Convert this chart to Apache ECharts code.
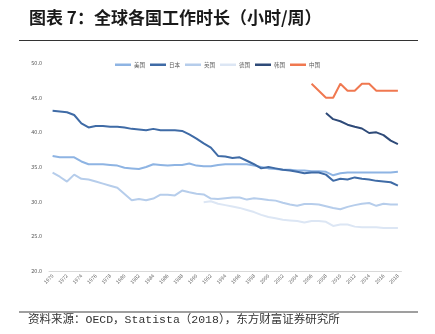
<!DOCTYPE html>
<html>
<head>
<meta charset="utf-8">
<script src="https://cdn.jsdelivr.net/npm/echarts@6/dist/echarts.min.js"></script>
<style>
html,body{margin:0;padding:0;background:#fff;}
#chart{width:435px;height:334px;}
</style>
</head>
<body>
<div id="chart"></div>
<script>
var years = [];
for (var y = 1970; y <= 2018; y++) years.push(String(y));

var usa = [36.6,36.4,36.4,36.4,35.8,35.4,35.4,35.4,35.3,35.2,34.9,34.8,34.7,35.0,35.4,35.3,35.2,35.3,35.3,35.5,35.2,35.1,35.1,35.3,35.4,35.4,35.4,35.4,35.2,35.0,34.8,34.7,34.6,34.6,34.5,34.5,34.4,34.4,34.3,33.8,34.1,34.2,34.2,34.2,34.2,34.2,34.2,34.2,34.3];
var japan = [43.1,43.0,42.9,42.5,41.3,40.7,40.9,40.9,40.8,40.8,40.7,40.5,40.4,40.3,40.5,40.3,40.3,40.3,40.2,39.7,39.1,38.4,37.8,36.6,36.5,36.3,36.4,35.9,35.4,34.8,35.0,34.8,34.6,34.5,34.3,34.1,34.2,34.2,33.9,33.0,33.3,33.2,33.5,33.3,33.2,33.0,32.9,32.8,32.3];
var uk = [34.2,33.6,32.9,33.9,33.3,33.2,32.9,32.6,32.3,32.0,31.1,30.2,30.4,30.2,30.45,31.0,31.0,30.9,31.6,31.35,31.15,31.05,30.45,30.4,30.5,30.6,30.6,30.3,30.5,30.4,30.25,30.15,29.85,29.6,29.4,29.65,29.65,29.6,29.35,29.1,28.9,29.25,29.5,29.7,29.8,29.4,29.7,29.6,29.6];
var germany = [null,null,null,null,null,null,null,null,null,null,null,null,null,null,null,null,null,null,null,null,null,29.9,30.05,29.7,29.5,29.3,29.1,28.8,28.5,28.1,27.8,27.6,27.4,27.3,27.2,27.0,27.2,27.2,27.1,26.5,26.7,26.7,26.4,26.3,26.3,26.3,26.2,26.2,26.2];
var korea = [null,null,null,null,null,null,null,null,null,null,null,null,null,null,null,null,null,null,null,null,null,null,null,null,null,null,null,null,null,null,null,null,null,null,null,null,null,null,42.8,41.9,41.6,41.1,40.8,40.55,39.9,40.0,39.6,38.8,38.3];
var china = [null,null,null,null,null,null,null,null,null,null,null,null,null,null,null,null,null,null,null,null,null,null,null,null,null,null,null,null,null,null,null,null,null,null,null,null,47,46,45,45,47,46,46,47,47,46,46,46,46];

var names = ['美国','日本','英国','德国','韩国','中国'];
var colors = ['#8EB4E3','#3F6BA6','#B6CDEB','#DCE6F4','#2E4A78','#F07850'];
var dataSets = [usa, japan, uk, germany, korea, china];
var yTicks = {min: 20, max: 50, interval: 5};

var chart = echarts.init(document.getElementById('chart'), null, {renderer: 'canvas'});
var series = names.map(function (n, i) {
  return {
    name: n, type: 'line', data: dataSets[i], symbol: 'none', smooth: false,
    connectNulls: false,
    lineStyle: {color: colors[i], width: 2},
    itemStyle: {color: colors[i]},
    z: (i === 1 || i === 4) ? 3 : 2
  };
});

chart.setOption({
  animation: false,
  backgroundColor: '#fff',
  textStyle: {fontFamily: '"Noto Sans CJK SC", sans-serif'},
  grid: {left: 49, right: 33.5, top: 63, bottom: 63, containLabel: false},
  legend: {
    data: names, top: 57, left: 'center',
    icon: 'rect', itemWidth: 16, itemHeight: 2.5, itemGap: 5,
    textStyle: {fontSize: 5.5, color: '#595959', padding: [0, 0, 0, -2]}
  },
  xAxis: {
    type: 'category', data: years, boundaryGap: true,
    axisLine: {lineStyle: {color: '#D9D9D9', width: 1}},
    axisTick: {show: false},
    axisLabel: {interval: 1, rotate: 45, fontSize: 5, color: '#595959', margin: 4}
  },
  yAxis: {
    type: 'value', min: yTicks.min, max: yTicks.max, interval: yTicks.interval,
    axisLine: {show: false}, axisTick: {show: false}, splitLine: {show: false},
    axisLabel: {fontSize: 5.5, color: '#595959', margin: 7, formatter: function (v) { return v.toFixed(1); }}
  },
  graphic: [
    {type: 'text', left: 29, top: 9, style: {text: '图表 7：全球各国工作时长（小时/周）', font: 'bold 17px "Noto Sans CJK SC"', fill: '#1a1a1a'}},
    {type: 'line', shape: {x1: 19, y1: 40.5, x2: 418, y2: 40.5}, style: {stroke: '#333', lineWidth: 1}},
    {type: 'line', shape: {x1: 19, y1: 312, x2: 418, y2: 312}, style: {stroke: '#7F7F7F', lineWidth: 1.5}},
    {type: 'text', left: 28, top: 314, style: {text: '资料来源：OECD，Statista（2018），东方财富证券研究所', font: '11.5px "Liberation Mono","Noto Sans CJK SC"', fill: '#333'}}
  ],
  series: series
});
</script>
</body>
</html>
